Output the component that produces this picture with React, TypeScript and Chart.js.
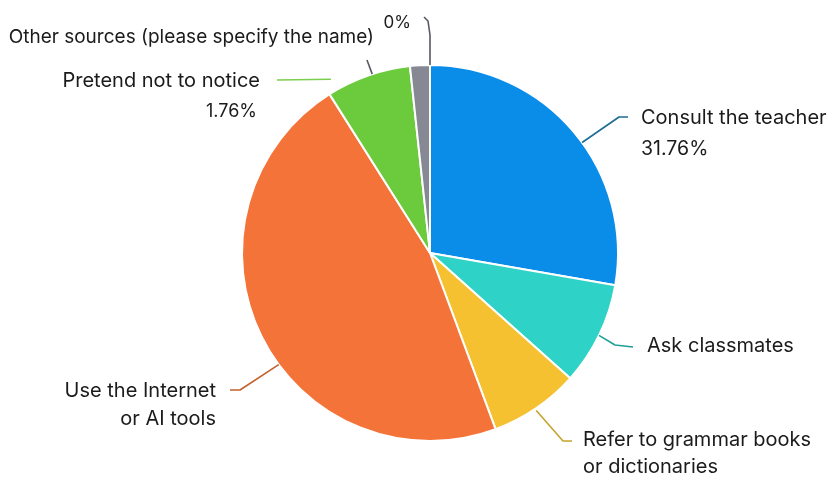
import React, { useEffect, useRef } from "react";
import { Chart, registerables } from "chart.js";

Chart.register(...registerables);

const categories = [
  "Consult the teacher",
  "Ask classmates",
  "Refer to grammar books or dictionaries",
  "Use the Internet or AI tools",
  "Pretend not to notice",
  "Other sources (please specify the name)",
];
// slice sizes (percent of the circle)
const sliceValues = [27.75, 8.86, 7.72, 46.69, 7.28, 1.7];
// percentage labels as printed on the picture
const printedPercents = ["31.76%", "", "", "", "1.76%", "0%"];

const sliceColors = ["#0a8ce9", "#2ed2c6", "#f6c131", "#f47338", "#6ccb3d", "#868993"];
const leaderColors = ["#1d6c93", "#1c9f97", "#c4a42c", "#c4622d", "#7bcf4f", "#555a60"];

const FONT = "Inter, 'Noto Sans', sans-serif";
const TEXT_COLOR = "#1b1b1b";

// label layout: leader-line angle (deg clockwise from top), radius offset of the start,
// elbow points relative to the pie centre, and text placement relative to the centre
type LabelLayout = {
  index: number;
  angle: number;
  startGap: number;
  path: [number, number][];
  lines: { text: string; dx: number; dy: number; size: number }[];
  align: CanvasTextAlign;
};

const labelLayouts: LabelLayout[] = [
  {
    index: 0,
    angle: 54,
    startGap: 0,
    path: [[189, -136], [198, -136]],
    lines: [
      { text: "Consult the teacher", dx: 211, dy: -135, size: 20 },
      { text: printedPercents[0], dx: 211, dy: -104, size: 19.5 },
    ],
    align: "left",
  },
  {
    index: 1,
    angle: 116,
    startGap: 0,
    path: [[185, 92], [203, 94]],
    lines: [{ text: "Ask classmates", dx: 217, dy: 93, size: 20 }],
    align: "left",
  },
  {
    index: 2,
    angle: 146,
    startGap: 2,
    path: [[133, 188], [142, 188]],
    lines: [
      { text: "Refer to grammar books", dx: 153, dy: 187, size: 20 },
      { text: "or dictionaries", dx: 153, dy: 214, size: 20 },
    ],
    align: "left",
  },
  {
    index: 3,
    angle: 233.6,
    startGap: 0,
    path: [[-190, 137], [-200, 137]],
    lines: [
      { text: "Use the Internet", dx: -214, dy: 138, size: 20 },
      { text: "or AI tools", dx: -214, dy: 166, size: 20 },
    ],
    align: "right",
  },
  {
    index: 4,
    angle: 330.3,
    startGap: 12,
    path: [[-153, -173]],
    lines: [
      { text: "Pretend not to notice", dx: -170, dy: -172, size: 20 },
      { text: printedPercents[4], dx: -173, dy: -141, size: 18 },
    ],
    align: "right",
  },
  {
    index: 5,
    angle: 342.1,
    startGap: 0,
    path: [[-63, -193]],
    lines: [{ text: "Other sources (please specify the name)", dx: -56, dy: -216, size: 19 }],
    align: "right",
  },
  {
    index: 5,
    angle: 0,
    startGap: 0,
    path: [[0, -218], [-2, -232], [-6, -236]],
    lines: [{ text: printedPercents[5], dx: -19, dy: -230, size: 17 }],
    align: "right",
  },
];

const leaderPlugin = {
  id: "leaderLabels",
  afterDatasetsDraw(chart: any) {
    const meta = chart.getDatasetMeta(0);
    const first = meta.data[0];
    if (!first) return;
    const cx = first.x;
    const cy = first.y;
    const r = first.outerRadius;
    const ctx: CanvasRenderingContext2D = chart.ctx;
    ctx.save();
    labelLayouts.forEach((l) => {
      const a = ((l.angle - 90) * Math.PI) / 180;
      const sx = cx + Math.cos(a) * (r + l.startGap);
      const sy = cy + Math.sin(a) * (r + l.startGap);
      ctx.beginPath();
      ctx.moveTo(sx, sy);
      l.path.forEach(([dx, dy]) => ctx.lineTo(cx + dx, cy + dy));
      ctx.strokeStyle = leaderColors[l.index];
      ctx.lineWidth = 1.6;
      ctx.lineJoin = "round";
      ctx.stroke();
      ctx.fillStyle = TEXT_COLOR;
      ctx.textAlign = l.align;
      ctx.textBaseline = "middle";
      l.lines.forEach((ln) => {
        if (!ln.text) return;
        ctx.font = `${ln.size}px ${FONT}`;
        ctx.fillText(ln.text, cx + ln.dx, cy + ln.dy);
      });
    });
    ctx.restore();
  },
};

export default function App() {
  const canvasRef = useRef<HTMLCanvasElement>(null);

  useEffect(() => {
    if (!canvasRef.current) return;
    const chart = new Chart(canvasRef.current, {
      type: "pie",
      data: {
        labels: categories,
        datasets: [
          {
            data: sliceValues,
            backgroundColor: sliceColors,
            borderColor: "#ffffff",
            borderWidth: 2,
          },
        ],
      },
      options: {
        responsive: true,
        maintainAspectRatio: false,
        animation: false,
        layout: { padding: { left: 241, right: 211, top: 64, bottom: 38 } },
        plugins: {
          legend: { display: false },
          tooltip: { enabled: false },
        },
      },
      plugins: [leaderPlugin],
    });
    return () => chart.destroy();
  }, []);

  return (
    <div
      style={{
        position: "absolute",
        left: 0,
        top: 0,
        width: 830,
        height: 480,
        background: "#ffffff",
      }}
    >
      <canvas ref={canvasRef} />
    </div>
  );
}
